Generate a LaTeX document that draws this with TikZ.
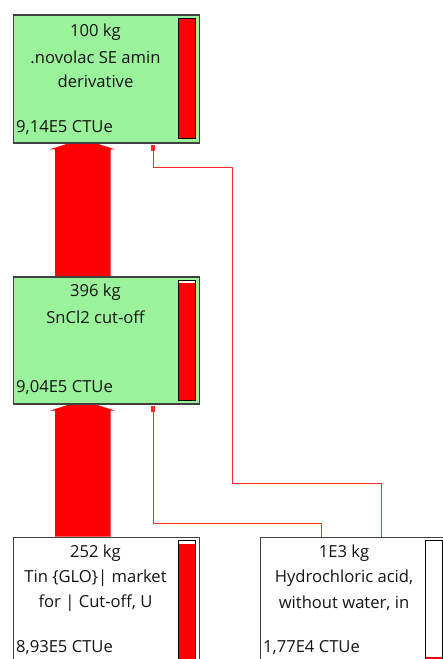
\documentclass[tikz,border=0pt]{standalone}
\usepackage{fontspec}
\setmainfont{Open Sans}
\usetikzlibrary{arrows.meta,calc}
\definecolor{procgreen}{RGB}{154,242,154}
\definecolor{boxgray}{RGB}{64,64,64}
\definecolor{flowred}{RGB}{255,40,40}
\definecolor{txt}{RGB}{20,20,20}
\begin{document}
\begin{tikzpicture}[x=1pt,y=-1pt,
  proc/.style={draw=boxgray,line width=1.3pt,rectangle,inner sep=0pt,anchor=north west,minimum width=186pt},
  green/.style={fill=procgreen},
  lbl/.style={text=txt,inner sep=0pt,font=\fontsize{16.6}{20}\selectfont},
  val/.style={lbl,anchor=west},
  barbox/.style={draw=black,line width=1pt},
  barfill/.style={fill=red},
  flow/.style={draw=flowred,line width=1.2pt,-{Rectangle[length=6pt,width=3.8pt]},shorten >=1pt},
  bigarrow/.style={fill=red}]
\useasboundingbox (0,0) rectangle (443,659);
\clip (0,0) rectangle (443,659);
% big flows
\fill[bigarrow] (55,536.7) -- (55,410.6) -- (50,410.6) -- (73,403.3) -- (92,403.3) -- (115,410.6) -- (110.7,410.6) -- (110.7,536.7) -- cycle;
\fill[bigarrow] (55,276) -- (55,149.3) -- (50,149.3) -- (73,142) -- (92,142) -- (115,149.3) -- (110.7,149.3) -- (110.7,276) -- cycle;
% boxes
\node[proc,green,minimum height=128pt] (n1) at (13,14.3) {};
\node[proc,green,minimum height=127pt] (n2) at (13,276.3) {};
\node[proc,fill=white,minimum height=160pt] (n3) at (13,536.7) {};
\node[proc,fill=white,minimum height=160pt] (n4) at (260,536.7) {};
% bars
\draw[barbox,fill=red] (178,18.7) rectangle (195.7,138.3);
\fill[white] (178,280) rectangle (195.7,400);
\fill[barfill] (178,282.5) rectangle (195.7,400);
\draw[barbox] (178,280) rectangle (195.7,400);
\fill[white] (178,540.7) rectangle (195.7,680);
\fill[barfill] (178,544) rectangle (195.7,680);
\draw[barbox] (178,540.7) rectangle (195.7,680);
\fill[white] (425,540) rectangle (442.7,680);
\fill[barfill] (425,657) rectangle (442.7,680);
\draw[barbox] (425,540) rectangle (442.7,680);
% texts
\node[lbl] (t1a) at (95.5,32) {100 kg};
\node[lbl] (t1b) at (95.5,57) {.novolac SE amin};
\node[lbl] (t1c) at (95.5,81) {derivative};
\node[val] (t1d) at (16,128) {9,14E5 CTUe};
\node[lbl] (t2a) at (95.5,292) {396 kg};
\node[lbl] (t2b) at (95.5,317) {SnCl2 cut-off};
\node[val] (t2d) at (16,388) {9,04E5 CTUe};
\node[lbl] (t3a) at (95.5,553) {252 kg};
\node[lbl] (t3b) at (95.5,578) {Tin \{GLO\}| market};
\node[lbl] (t3c) at (95.5,603) {for | Cut-off, U};
\node[val] (t3d) at (16,648) {8,93E5 CTUe};
\node[lbl] (t4a) at (344,553) {1E3 kg};
\node[lbl] (t4b) at (344,578) {Hydrochloric acid,};
\node[lbl] (t4c) at (344,603) {without water, in};
\node[val] (t4d) at (263,648) {1,77E4 CTUe};
% thin flows
\draw[flow] (381.7,0 |- n4.north) |- (232.3,483.3) |- (153.3,167.7) -- (153.3,0 |- n1.south);
\draw[flow] (321.7,0 |- n4.north) |- (153.3,523.3) -- (153.3,0 |- n2.south);
\end{tikzpicture}
\end{document}
